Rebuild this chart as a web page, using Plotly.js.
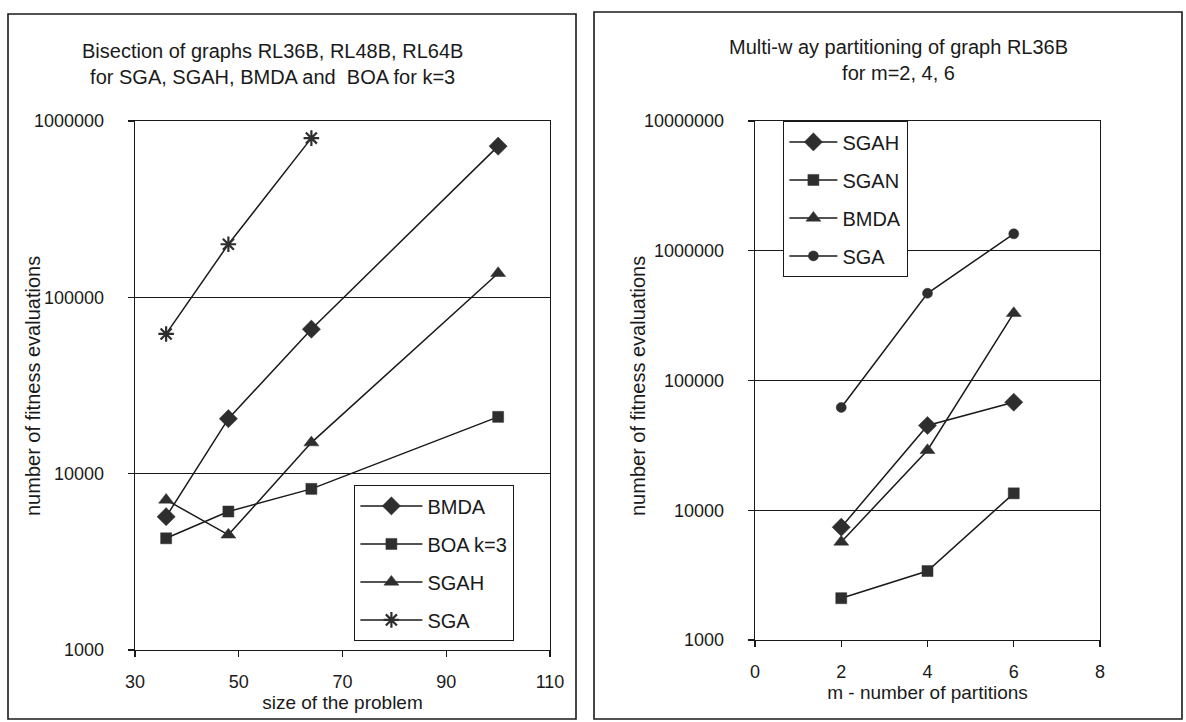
<!DOCTYPE html>
<html>
<head>
<meta charset="utf-8">
<script src="https://cdn.plot.ly/plotly-3.0.1.min.js"></script>
<style>html,body{margin:0;padding:0;background:#fff;}#chart{width:1186px;height:722px;}</style>
</head>
<body>
<div id="chart"></div>
<script>
// ---- Left panel data: bisection ----
const problemSizes = [36, 48, 64, 100];
const bmdaBisection = [5700, 20500, 66000, 720000];
const boaBisection = [4300, 6100, 8200, 21000];
const sgahBisection = [7100, 4500, 15000, 137000];
const sgaSizes = [36, 48, 64];
const sgaBisection = [62000, 200000, 800000];

// ---- Right panel data: multi-way partitioning ----
const partitions = [2, 4, 6];
const sgahMulti = [7400, 45000, 68000];
const sganMulti = [2100, 3400, 13500];
const bmdaMulti = [5700, 29000, 330000];
const sgaMulti = [62000, 470000, 1350000];

const leftTicks = [1000, 10000, 100000, 1000000];
const leftTickText = ['1000', '10000', '100000', '1000000'];
const rightTicks = [1000, 10000, 100000, 1000000, 10000000];
const rightTickText = ['1000', '10000', '100000', '1000000', '10000000'];

const W = 1186, H = 722;
const px = v => v / W;
const py = v => 1 - v / H;
const FONT = 'Liberation Sans, Arial, sans-serif';
const ink = '#1a1a1a';

function tr(x, y, name, symbol, xa, ya, legend, size) {
  const open = symbol.indexOf('open') >= 0;
  return {
    x: x, y: y, name: name, type: 'scatter', mode: 'lines+markers',
    xaxis: xa, yaxis: ya, legend: legend, legendgroup: name + legend,
    line: {color: ink, width: 1.5},
    marker: {symbol: symbol, size: size, color: '#2e2e2e',
             line: {color: open ? ink : '#2e2e2e', width: open ? 2.2 : 0.5}}
  };
}

const data = [
  tr(problemSizes, bmdaBisection, 'BMDA', 'diamond', 'x', 'y', 'legend', 14),
  tr(problemSizes, boaBisection, 'BOA k=3', 'square', 'x', 'y', 'legend', 11),
  tr(problemSizes, sgahBisection, 'SGAH', 'triangle-up', 'x', 'y', 'legend', 13),
  tr(sgaSizes, sgaBisection, 'SGA', 'asterisk-open', 'x', 'y', 'legend', 13),
  tr(partitions, sgahMulti, 'SGAH', 'diamond', 'x2', 'y2', 'legend2', 14),
  tr(partitions, sganMulti, 'SGAN', 'square', 'x2', 'y2', 'legend2', 11),
  tr(partitions, bmdaMulti, 'BMDA', 'triangle-up', 'x2', 'y2', 'legend2', 13),
  tr(partitions, sgaMulti, 'SGA', 'circle', 'x2', 'y2', 'legend2', 10)
];

const axisCommon = {
  showline: true, linecolor: ink, linewidth: 1.4, mirror: true,
  ticks: 'outside', ticklen: 6, tickcolor: ink, tickwidth: 1.3,
  tickfont: {family: FONT, size: 18, color: ink},
  zeroline: false, automargin: false, fixedrange: true
};

const yTitleFont = {family: FONT, size: 20, color: ink};

const layout = {
  width: W, height: H,
  margin: {l: 0, r: 0, t: 0, b: 0},
  paper_bgcolor: '#ffffff', plot_bgcolor: '#ffffff',
  font: {family: FONT, color: ink},
  showlegend: true,
  xaxis: Object.assign({}, axisCommon, {
    domain: [px(135), px(550)], anchor: 'y', range: [30, 110],
    tickvals: [30, 50, 70, 90, 110], showgrid: false, ticklabelstandoff: 9,
    title: {text: 'size of the problem', font: {family: FONT, size: 19, color: ink}, standoff: 3}
  }),
  yaxis: Object.assign({}, axisCommon, {
    domain: [py(650), py(121)], anchor: 'x', type: 'log', range: [3, 6],
    tickvals: leftTicks, ticktext: leftTickText,
    showgrid: true, gridcolor: ink, gridwidth: 1.3, ticklabelstandoff: 20
  }),
  xaxis2: Object.assign({}, axisCommon, {
    domain: [px(755), px(1100)], anchor: 'y2', range: [0, 8],
    tickvals: [0, 2, 4, 6, 8], showgrid: false, ticklabelstandoff: 9,
    title: {text: 'm - number of partitions', font: {family: FONT, size: 19, color: ink}, standoff: 4}
  }),
  yaxis2: Object.assign({}, axisCommon, {
    domain: [py(640), py(121)], anchor: 'x2', type: 'log', range: [3, 7],
    tickvals: rightTicks, ticktext: rightTickText,
    showgrid: true, gridcolor: ink, gridwidth: 1.3, ticklabelstandoff: 20
  }),
  legend: {
    x: px(354), y: py(485), xanchor: 'left', yanchor: 'top',
    bgcolor: '#ffffff', bordercolor: ink, borderwidth: 1.4,
    font: {family: FONT, size: 20, color: ink},
    itemwidth: 62, tracegroupgap: 9, traceorder: 'grouped'
  },
  legend2: {
    x: px(783), y: py(121), xanchor: 'left', yanchor: 'top',
    bgcolor: '#ffffff', bordercolor: ink, borderwidth: 1.4,
    font: {family: FONT, size: 20, color: ink},
    itemwidth: 48, tracegroupgap: 9, traceorder: 'grouped'
  },
  annotations: [
    {text: 'Bisection of graphs RL36B, RL48B, RL64B<br>for SGA, SGAH, BMDA and  BOA for k=3',
     xref: 'paper', yref: 'paper', x: px(272), y: py(38), xanchor: 'center', yanchor: 'top',
     showarrow: false, align: 'center', font: {family: FONT, size: 20, color: ink}},
    {text: 'Multi-w ay partitioning of graph RL36B<br>for m=2, 4, 6',
     xref: 'paper', yref: 'paper', x: px(898), y: py(34), xanchor: 'center', yanchor: 'top',
     showarrow: false, align: 'center', font: {family: FONT, size: 20, color: ink}},
    {text: 'number of fitness evaluations', textangle: -90,
     xref: 'paper', yref: 'paper', x: px(33), y: py(386), xanchor: 'center', yanchor: 'middle',
     showarrow: false, font: yTitleFont},
    {text: 'number of fitness evaluations', textangle: -90,
     xref: 'paper', yref: 'paper', x: px(638), y: py(386), xanchor: 'center', yanchor: 'middle',
     showarrow: false, font: yTitleFont}
  ],
  shapes: [
    {type: 'rect', xref: 'paper', yref: 'paper', x0: px(8), x1: px(576), y0: py(719), y1: py(14),
     line: {color: ink, width: 1.6}},
    {type: 'rect', xref: 'paper', yref: 'paper', x0: px(594), x1: px(1182), y0: py(719), y1: py(12),
     line: {color: ink, width: 1.6}}
  ]
};

Plotly.newPlot('chart', data, layout, {displayModeBar: false, staticPlot: true});
</script>
</body>
</html>
